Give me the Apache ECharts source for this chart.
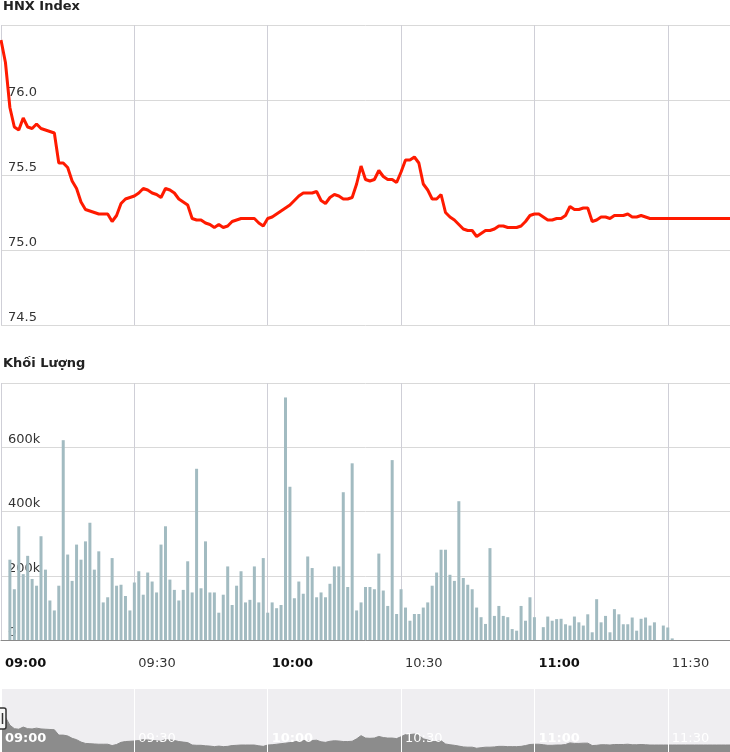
<!DOCTYPE html>
<html>
<head>
<meta charset="utf-8">
<title>HNX Index</title>
<script src="https://cdn.jsdelivr.net/npm/echarts@6/dist/echarts.min.js"></script>
<style>
  html, body { margin: 0; padding: 0; background: #fff; }
  #chart { width: 730px; height: 752px; }
</style>
</head>
<body>
<div id="chart"></div>
<script>
// one category per minute, 09:00 .. 11:44
const times = [];
for (let m = 0; m <= 164; m++) {
  let h = 9 + Math.floor(m / 60), mm = m % 60;
  times.push(String(h).padStart(2, '0') + ':' + String(mm).padStart(2, '0'));
}

// HNX index, one value per minute
const indexVals = [
  76.40, 76.25, 75.95, 75.82, 75.80, 75.88, 75.82, 75.81, 75.84, 75.81,
  75.80, 75.79, 75.78, 75.58, 75.58, 75.55, 75.46, 75.41, 75.32, 75.27,
  75.26, 75.25, 75.24, 75.24, 75.24, 75.19, 75.23, 75.31, 75.34, 75.35,
  75.36, 75.38, 75.41, 75.40, 75.38, 75.37, 75.35, 75.41, 75.40, 75.38,
  75.34, 75.32, 75.30, 75.21, 75.20, 75.20, 75.18, 75.17, 75.15, 75.17,
  75.15, 75.16, 75.19, 75.20, 75.21, 75.21, 75.21, 75.21, 75.18, 75.16,
  75.21, 75.22, 75.24, 75.26, 75.28, 75.30, 75.33, 75.36, 75.38, 75.38,
  75.38, 75.39, 75.33, 75.31, 75.35, 75.37, 75.36, 75.34, 75.34, 75.35,
  75.44, 75.56, 75.47, 75.46, 75.47, 75.53, 75.49, 75.47, 75.47, 75.45,
  75.52, 75.60, 75.60, 75.62, 75.58, 75.44, 75.40, 75.34, 75.34, 75.37,
  75.25, 75.22, 75.20, 75.17, 75.14, 75.13, 75.13, 75.09, 75.11, 75.13,
  75.13, 75.14, 75.16, 75.16, 75.15, 75.15, 75.15, 75.16, 75.19, 75.23,
  75.24, 75.24, 75.22, 75.20, 75.20, 75.21, 75.21, 75.23, 75.29, 75.27,
  75.27, 75.28, 75.28, 75.19, 75.20, 75.22, 75.22, 75.21, 75.23, 75.23,
  75.23, 75.24, 75.22, 75.22, 75.23, 75.22, 75.21, 75.21, 75.21, 75.21,
  75.21, 75.21, 75.21, 75.21, 75.21, 75.21, 75.21, 75.21, 75.21, 75.21,
  75.21, 75.21, 75.21, 75.21, 75.21
];

// volume in thousands, one slot per minute
const volumeK = [
  0, 0,
  250, 158, 354, 205, 262, 190, 169, 323, 219, 123,
  92, 169, 622, 266, 184, 297, 250, 307, 365, 219,
  276, 117, 133, 255, 169, 172, 137, 92, 179, 214,
  141, 210, 182, 148, 297, 354, 188, 156, 123, 156,
  245, 148, 533, 161, 307, 148, 148, 85, 141, 229,
  109, 169, 214, 117, 125, 229, 117, 255, 85, 117,
  99, 109, 755, 477, 130, 182, 144, 260, 224, 133,
  148, 133, 175, 229, 229, 460, 165, 550, 92, 117,
  165, 165, 158, 269, 154, 106, 560, 81, 158, 101,
  60, 81, 81, 101, 117, 169, 210, 281, 281, 203,
  184, 432, 193, 172, 158, 101, 71, 50, 286, 75,
  106, 75, 71, 34, 29, 106, 60, 133, 71,
  0,
  40, 73, 60, 65, 66, 49, 45, 73, 55, 45,
  80, 24, 127, 55, 75, 24, 96, 80, 49, 49,
  70, 29, 66, 70, 45, 55,
  0,
  45, 39, 5,
  0, 0, 0, 0, 0, 0, 0, 0, 0, 0, 0, 0, 0
];

const FONT = 'DejaVu Sans';
const every30 = (i) => i % 30 === 0;
const timeFmt = (v) => (v.slice(3) === '00' ? '{h|' + v + '}' : '{n|' + v + '}');

let chart = echarts.init(document.getElementById('chart'));
chart.setOption({
  animation: false,
  title: [
    { text: 'HNX Index', left: 3, top: 0, padding: 0,
      textStyle: { fontFamily: FONT, fontSize: 13, fontWeight: 'bold', color: '#222' } },
    { text: 'Khối Lượng', left: 3, top: 357, padding: 0,
      textStyle: { fontFamily: FONT, fontSize: 13, fontWeight: 'bold', color: '#222' } }
  ],
  grid: [
    { left: 1, right: 0, top: 25, height: 300 },
    { left: 1, right: 0, top: 383, height: 257 },
    { left: 1, right: 0, top: 689, height: 63, show: true, backgroundColor: '#efeef1', borderWidth: 0 }
  ],
  xAxis: [
    {
      type: 'category', gridIndex: 0, data: times, boundaryGap: false,
      axisLine: { show: false }, axisTick: { show: false }, axisLabel: { show: false },
      splitLine: { show: true, interval: every30, lineStyle: { color: '#cfcfd7' } }
    },
    {
      type: 'category', gridIndex: 1, data: times, boundaryGap: false,
      axisLine: { show: true, lineStyle: { color: '#8a8a8a' } },
      axisTick: { show: false },
      axisLabel: {
        interval: every30, margin: 17, align: 'left', formatter: timeFmt,
        rich: {
          h: { fontFamily: FONT, fontSize: 13, fontWeight: 'bold', color: '#111', padding: [0, 0, 0, 4] },
          n: { fontFamily: FONT, fontSize: 13, color: '#333', padding: [0, 0, 0, 4] }
        }
      },
      splitLine: { show: true, interval: every30, lineStyle: { color: '#cfcfd7' } }
    },
    {
      type: 'category', gridIndex: 2, data: times, boundaryGap: false, z: 10,
      axisLine: { show: false }, axisTick: { show: false },
      axisLabel: {
        interval: every30, margin: -20, align: 'left', verticalAlign: 'top', formatter: timeFmt,
        rich: {
          h: { fontFamily: FONT, fontSize: 13, fontWeight: 'bold', color: '#fff', padding: [0, 0, 0, 4] },
          n: { fontFamily: FONT, fontSize: 13, color: '#fff', padding: [0, 0, 0, 4] }
        }
      },
      splitLine: { show: true, interval: every30, lineStyle: { color: '#ffffff' } }
    }
  ],
  yAxis: [
    {
      type: 'value', gridIndex: 0, min: 74.5, max: 76.5, interval: 0.5,
      axisLine: { show: false }, axisTick: { show: false },
      axisLabel: {
        inside: true, margin: 7, showMaxLabel: false, verticalAlign: 'bottom', padding: [0, 0, 1, 0],
        fontFamily: FONT, fontSize: 13, color: '#333',
        formatter: (v) => v.toFixed(1)
      },
      splitLine: { lineStyle: { color: '#d9d9d9' } }
    },
    {
      type: 'value', gridIndex: 1, min: 0, max: 800, interval: 200,
      axisLine: { show: false }, axisTick: { show: false },
      axisLabel: {
        inside: true, margin: 7, showMaxLabel: false, verticalAlign: 'bottom', padding: [0, 0, 1, 0],
        fontFamily: FONT, fontSize: 13, color: '#333',
        formatter: (v) => (v === 0 ? '0' : v + 'k')
      },
      splitLine: { lineStyle: { color: '#d9d9d9' } }
    },
    { type: 'value', gridIndex: 2, min: 74.95, max: 77.3, show: false }
  ],
  series: [
    {
      name: 'HNX Index', type: 'line', xAxisIndex: 0, yAxisIndex: 0,
      data: indexVals, showSymbol: false, silent: true,
      lineStyle: { color: '#ff1a00', width: 3 }
    },
    {
      name: 'Khối Lượng', type: 'bar', xAxisIndex: 1, yAxisIndex: 1,
      data: volumeK, barWidth: 3, silent: true,
      itemStyle: { color: '#a2bbc1' }
    },
    {
      name: 'nav', type: 'line', xAxisIndex: 2, yAxisIndex: 2, z: 1,
      data: indexVals, showSymbol: false, silent: true,
      lineStyle: { color: '#8a8a8a', width: 1 },
      areaStyle: { color: '#8c8c8c', opacity: 1, origin: 'start' }
    }
  ],
  graphic: [
    { type: 'rect', shape: { x: -5, y: 708, width: 11, height: 21, r: 2 },
      style: { fill: '#f7f7f7', stroke: '#333', lineWidth: 1.5 }, z: 100 },
    { type: 'line', shape: { x1: 2.5, y1: 713, x2: 2.5, y2: 724 },
      style: { stroke: '#333', lineWidth: 1.5 }, z: 101 }
  ]
});
</script>
</body>
</html>
